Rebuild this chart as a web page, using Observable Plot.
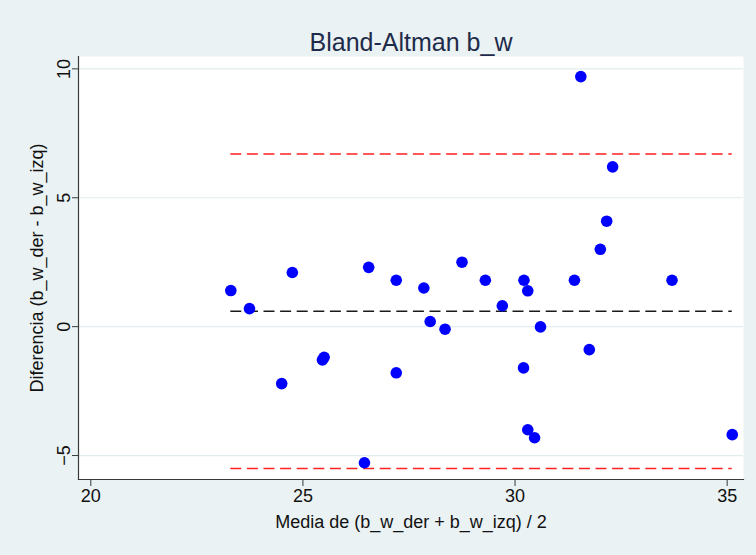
<!DOCTYPE html>
<html>
<head>
<meta charset="utf-8">
<script src="https://cdn.jsdelivr.net/npm/d3@7"></script>
<script src="https://cdn.jsdelivr.net/npm/@observablehq/plot@0.6"></script>
<style>
  html, body { margin: 0; padding: 0; background: #eaf2f3; }
  #chart { width: 756px; height: 555px; }
</style>
</head>
<body>
<div id="chart"></div>
<script>
// Data
const means = [23.30, 23.74, 24.75, 24.50, 25.46, 25.50, 26.55, 27.20, 27.20, 27.85,
               28.00, 28.35, 26.45, 28.75, 29.30, 29.70, 30.21, 30.30, 30.60, 30.20,
               31.40, 32.01, 31.75, 33.70, 31.55, 32.30, 32.16, 30.30, 30.46, 35.12];
const diffs = [1.40, 0.70, 2.10, -2.21, -1.29, -1.19, 2.30, 1.80, -1.79, 1.50,
               0.20, -0.10, -5.28, 2.50, 1.80, 0.81, 1.80, 1.39, -0.01, -1.60,
               1.80, 3.00, -0.89, 1.80, 9.70, 6.20, 4.09, -4.00, -4.31, -4.19];
const meanDiff = [0.60];
const limits = [-5.50, 6.70];
const xTicks = [20, 25, 30, 35];
const yTicks = [-5, 0, 5, 10];
const titleText = "Bland-Altman b_w";
const xLabel = "Media de (b_w_der + b_w_izq) / 2";
const yLabel = "Diferencia (b_w_der - b_w_izq)";

const points = means.map((m, i) => ({x: m, y: diffs[i]}));
const xMin = d3.min(means), xMax = d3.max(means);

const font = "'Liberation Sans', Arial, Helvetica, sans-serif";

const chart = Plot.plot({
  width: 756,
  height: 555,
  marginTop: 56,
  marginLeft: 78,
  marginRight: 13,
  marginBottom: 76,
  style: {background: "#eaf2f3", fontFamily: font, fontSize: "18px", color: "#111"},
  x: {domain: [19.71, 35.385]},
  y: {domain: [-5.93, 10.48]},
  marks: [
    Plot.frame({fill: "white", stroke: null}),
    Plot.gridY(yTicks, {stroke: "#e2ebee", strokeOpacity: 1, strokeWidth: 1.2}),
    Plot.ruleY(limits, {x1: xMin, x2: xMax, stroke: "#ff2020", strokeWidth: 1.5, strokeDasharray: "11,5.6"}),
    Plot.ruleY(meanDiff, {x1: xMin, x2: xMax, stroke: "#1a1a1a", strokeWidth: 1.5, strokeDasharray: "11,5.6"}),
    Plot.dot(points, {x: "x", y: "y", r: 5.8, fill: "#0000ff", stroke: null}),
    Plot.frame({anchor: "left", stroke: "#3a3a3a", strokeWidth: 1.2}),
    Plot.frame({anchor: "bottom", stroke: "#3a3a3a", strokeWidth: 1.2}),
    Plot.axisX({ticks: xTicks, tickSize: 7, tickPadding: 3, label: null, stroke: "#3a3a3a", fill: "#111", fontSize: 18}),
    Plot.axisY({ticks: yTicks, tickSize: 6, tickPadding: 3, tickRotate: -90, label: null, stroke: "#3a3a3a", fill: "#111", fontSize: 18}),
    Plot.text([titleText], {frameAnchor: "top", dy: -14, lineAnchor: "middle", textAnchor: "middle", fontSize: 25, fill: "#1e2b4a"}),
    Plot.text([xLabel], {frameAnchor: "bottom", dy: 43, lineAnchor: "middle", textAnchor: "middle", fontSize: 18, fill: "#111"}),
    Plot.text([yLabel], {frameAnchor: "left", dx: -41, rotate: -90, lineAnchor: "middle", textAnchor: "middle", fontSize: 18, fill: "#111"})
  ]
});
document.getElementById("chart").appendChild(chart);
</script>
</body>
</html>
